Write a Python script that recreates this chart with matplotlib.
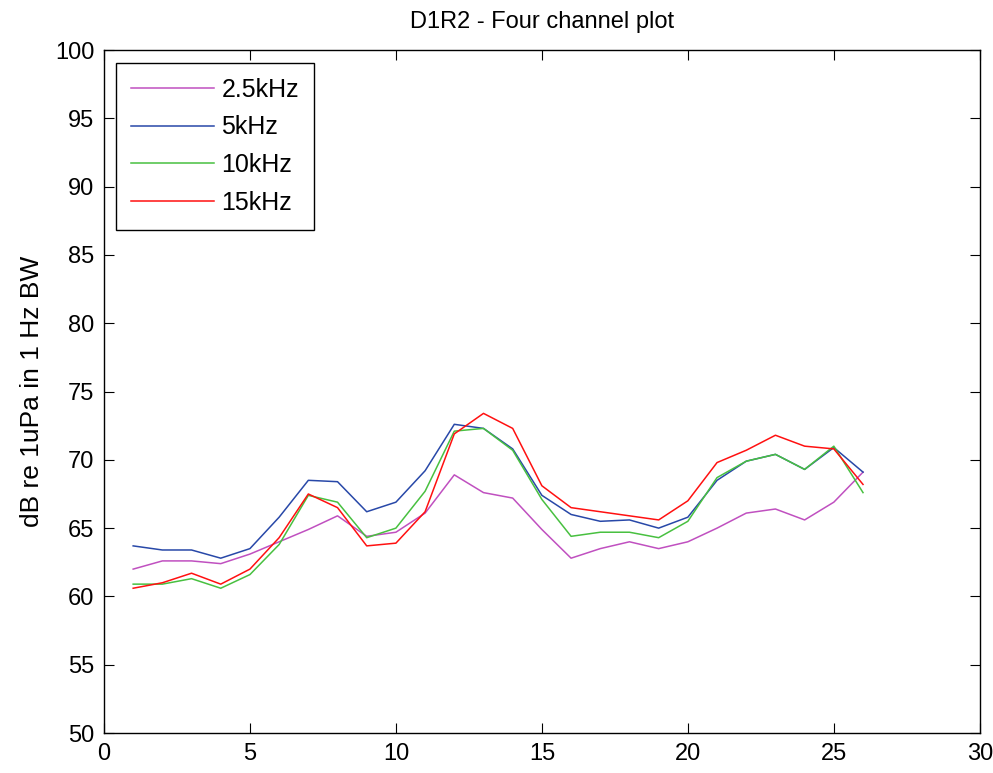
import numpy as np
import matplotlib.pyplot as plt

plt.rcParams['font.family'] = ['Liberation Sans', 'DejaVu Sans']

samples = np.arange(1, 27)

ch_2k5 = [62.0, 62.6, 62.6, 62.4, 63.1, 64.0, 64.9, 65.9, 64.4, 64.7,
          66.1, 68.9, 67.6, 67.2, 64.9, 62.8, 63.5, 64.0, 63.5, 64.0,
          65.0, 66.1, 66.4, 65.6, 66.9, 69.1]
ch_5k = [63.7, 63.4, 63.4, 62.8, 63.5, 65.8, 68.5, 68.4, 66.2, 66.9,
         69.2, 72.6, 72.3, 70.8, 67.4, 66.0, 65.5, 65.6, 65.0, 65.8,
         68.5, 69.9, 70.4, 69.3, 70.9, 69.1]
ch_10k = [60.9, 60.9, 61.3, 60.6, 61.6, 63.8, 67.4, 66.9, 64.3, 65.0,
          67.7, 72.1, 72.3, 70.7, 67.1, 64.4, 64.7, 64.7, 64.3, 65.5,
          68.7, 69.9, 70.4, 69.3, 71.0, 67.6]
ch_15k = [60.6, 61.0, 61.7, 60.9, 62.0, 64.3, 67.5, 66.5, 63.7, 63.9,
          66.2, 71.9, 73.4, 72.3, 68.1, 66.5, 66.2, 65.9, 65.6, 67.0,
          69.8, 70.7, 71.8, 71.0, 70.8, 68.2]

labels = ['2.5kHz', '5kHz', '10kHz', '15kHz']
colors = ['#c050c0', '#2848a8', '#48c040', '#ff1010']

fig = plt.figure(figsize=(9.93, 7.73), dpi=100)
ax = fig.add_axes([0.1047, 0.0517, 0.882, 0.8836])

for ys, lab, c in zip([ch_2k5, ch_5k, ch_10k, ch_15k], labels, colors):
    ax.plot(samples, ys, color=c, lw=1.1, label=lab)

ax.set_xlim(0, 30)
ax.set_ylim(50, 100)
ax.set_xticks(np.arange(0, 31, 5))
ax.set_yticks(np.arange(50, 101, 5))
ax.tick_params(direction='in', top=True, right=True, labelsize=17,
               length=7, pad=7)
for s in ax.spines.values():
    s.set_linewidth(1.0)

ax.set_title('D1R2 - Four channel plot', fontsize=17, pad=16)
ax.set_ylabel('dB re 1uPa in 1 Hz BW', fontsize=19, labelpad=8)

leg = ax.legend(loc='upper left', fontsize=18, fancybox=False, framealpha=1,
                edgecolor='black', handlelength=3.3, handletextpad=0.3,
                borderpad=0.6, labelspacing=0.55)
leg.get_frame().set_linewidth(1.0)

fig.savefig('out.png', dpi=100)
